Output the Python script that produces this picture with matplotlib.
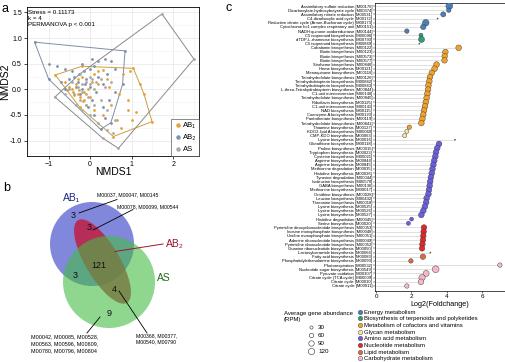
import matplotlib.pyplot as plt
import matplotlib.patches as mpatches
from matplotlib.lines import Line2D
from matplotlib.ticker import MultipleLocator
import numpy as np

plt.rcParams['font.family'] = ['Liberation Sans', 'DejaVu Sans']

# ---------------- panel a : NMDS points ----------------
ab1_x = [-0.84, -0.2, 1.04, 1.49, 0.56, -0.5, -0.45, -0.42, -0.35, -0.3, -0.25, -0.2, -0.15, -0.1,
         -0.05, 0.0, -0.3, -0.6, -0.55, -0.2, 0.1, 0.2, 0.3, 0.4, 0.2, 0.05, -0.1, -0.25, 0.1, 0.3,
         0.5, 0.7, 0.8, 0.95, 0.9, 0.9, 1.0, 1.3, 1.2, 0.65, 0.75, 1.1, 0.45, -0.38, -0.28, -0.18]
ab1_y = [0.28, 0.45, 0.41, -0.63, -0.92, 0.05, 0.0, -0.05, 0.1, -0.1, -0.15, -0.05, -0.2, -0.1,
         0.0, -0.15, 0.2, 0.15, -0.02, 0.25, 0.3, 0.35, 0.38, 0.2, 0.1, 0.15, -0.3, -0.35, -0.4, -0.5,
         -0.3, -0.1, 0.3, 0.35, -0.2, -0.4, -0.6, -0.1, 0.1, -0.6, -0.75, -0.45, 0.05, -0.12, -0.02, -0.22]
ab2_x = [-1.34, 0.84, 0.78, 0.5, 0.25, -1.0, -1.0, -0.8, -0.6, -0.5, -0.4, -0.35, -0.3, -0.2, -0.25,
         -0.15, -0.1, 0.0, 0.1, 0.2, 0.35, 0.5, 0.6, 0.4, 0.3, 0.15, 0.05, -0.05, 0.1, 0.3, 0.45, 0.6,
         -0.6, -0.45, 0.0, 0.2, -0.7, 0.35, 0.05, -0.2, -0.28, -0.12]
ab2_y = [0.92, 0.75, 0.1, -0.65, -0.78, 0.2, 0.5, 0.45, 0.4, 0.2, 0.25, 0.05, 0.15, 0.0, -0.1,
         0.35, 0.2, 0.4, 0.45, 0.55, 0.6, 0.55, 0.4, 0.3, 0.1, -0.05, -0.2, -0.35, -0.5, -0.35, -0.2, -0.05,
         0.0, 0.35, 0.05, 0.25, 0.15, -0.55, 0.6, 0.5, 0.3, 0.1]
as_x = [1.73, 2.5, 0.68, -0.85, -0.25, -0.5, -0.4, -0.3, -0.2, -0.15, -0.1, 0.0, 0.05, 0.1, 0.15,
        -0.05, -0.25, -0.35, -0.2, 0.0, 0.1, 0.25, 0.35, 0.5, 0.2, 0.4, 0.55, 0.3, 0.6, -0.6, -0.45,
        0.0, 0.4, 0.25, -0.1]
as_y = [1.47, 0.59, -1.15, -0.15, 0.3, 0.0, -0.1, 0.05, 0.1, -0.05, 0.15, 0.1, 0.2, 0.0, 0.15,
        -0.15, -0.2, -0.3, -0.4, -0.5, -0.3, -0.2, 0.05, 0.15, -0.65, -0.8, -0.85, -0.95, -0.6, -0.1, 0.15,
        0.25, -0.4, 0.2, -0.3]

groups = ['AB\u2081', 'AB\u2082', 'AS']
pt_cols = ['#e3a234', '#7d8fb0', '#a8a8a8']
hull_cols = ['#c9a040', '#7f8fa6', '#8a8a8a']

# ---------------- panel b : Venn counts ----------------
venn_counts = ['3', '3', '121', '3', '4', '9']   # AB1 only, AB1&AB2, all, AB1&AS, AB2&AS, AS only

# ---------------- panel c : modules ----------------
labels = [
    'Assimilatory sulfate reduction [M00176]', 'Dicarboxylate-hydroxybutyrate cycle [M00374]',
    'Assimilatory nitrate reduction [M00531]', 'C4-dicarboxylic acid cycle [M00172]',
    'Reductive citrate cycle (Arnon-Buchanan cycle) [M00173]', 'Cytochrome bc1 complex respiratory unit [M00151]',
    'NADH:quinone oxidoreductase [M00144]',
    'C5 isoprenoid biosynthesis [M00096]', 'dTDP-L-rhamnose biosynthesis [M00793]', 'C5 isoprenoid biosynthesis [M00849]',
    'Cobalamin biosynthesis [M00122]', 'Biotin biosynthesis [M00123]', 'Biotin biosynthesis [M00573]',
    'Biotin biosynthesis [M00577]', 'Siroheme biosynthesis [M00846]', 'Heme biosynthesis [M00121]',
    'Menaquinone biosynthesis [M00116]', 'Tetrahydrofolate biosynthesis [M00126]',
    'Tetrahydrobiopterin biosynthesis [M00842]', 'Tetrahydrobiopterin biosynthesis [M00843]',
    'L-threo-Tetrahydrobiopterin biosynthesis [M00844]', 'C1-unit interconversion [M00140]',
    'Tetrahydrofolate biosynthesis [M00840]', 'Riboflavin biosynthesis [M00125]',
    'C1-unit interconversion [M00141]', 'NAD biosynthesis [M00115]', 'Coenzyme A biosynthesis [M00120]',
    'Pantothenate biosynthesis [M00119]', 'Tetrahydrofolate biosynthesis [M00841]', 'Thiamine biosynthesis [M00127]',
    'KDO2-lipid A biosynthesis [M00060]', 'CMP-KDO biosynthesis [M00063]',
    'Lysine biosynthesis [M00016]', 'Glutathione biosynthesis [M00118]', 'Proline biosynthesis [M00015]',
    'Tryptophan biosynthesis [M00023]', 'Cysteine biosynthesis [M00021]', 'Arginine biosynthesis [M00844]',
    'Arginine biosynthesis [M00845]', 'Methionine degradation [M00035]', 'Histidine biosynthesis [M00026]',
    'Tyrosine degradation [M00044]', 'Isoleucine biosynthesis [M00570]', 'GABA biosynthesis [M00136]',
    'Methionine biosynthesis [M00017]', 'Ornithine biosynthesis [M00028]', 'Leucine biosynthesis [M00432]',
    'Threonine biosynthesis [M00018]', 'Lysine biosynthesis [M00525]', 'Lysine biosynthesis [M00526]',
    'Lysine biosynthesis [M00527]', 'Histidine degradation [M00045]', 'Serine biosynthesis [M00020]',
    'Pyrimidine deoxyribonucleotide biosynthesis [M00053]', 'Inosine monophosphate biosynthesis [M00048]',
    'Uridine monophosphate biosynthesis [M00051]', 'Adenine ribonucleotide biosynthesis [M00049]',
    'Pyrimidine ribonucleotide biosynthesis [M00052]', 'Guanine ribonucleotide biosynthesis [M00050]',
    'Lactosylceramide biosynthesis [M00066]', 'Fatty acid biosynthesis [M00083]',
    'Phosphatidylethanolamine biosynthesis [M00093]',
    'Photorespiration [M00532]', 'Nucleotide sugar biosynthesis [M00549]', 'Pyruvate oxidation [M00307]',
    'Citrate cycle (TCA cycle) [M00009]', 'Citrate cycle [M00010]', 'Citrate cycle [M00011]',
]
log2fc = [4.14, 4.11, 3.8, 3.48, 2.81, 2.67, 1.74,
          2.54, 2.57, 2.45,
          4.67, 3.92, 3.88, 3.87, 3.42, 3.31, 3.15, 3.05, 3.01, 2.96, 2.94, 2.9, 2.86, 2.81, 2.77,
          2.71, 2.67, 2.62, 2.56, 1.88,
          1.74, 1.62,
          4.46, 3.56, 3.46, 3.39, 3.35, 3.29, 3.24, 3.19, 3.15, 3.1, 3.06, 3.03, 2.99, 2.96, 2.86,
          2.83, 2.76, 2.67, 2.56, 2.01, 1.83,
          2.71, 2.69, 2.67, 2.65, 2.62, 2.6,
          3.07, 2.65, 1.97,
          7.0, 3.37, 2.83, 2.6, 2.54, 1.74]
abundance = [140, 60, 80, 4, 130, 90, 60,
             50, 110, 4,
             100, 95, 95, 95, 100, 100, 95, 100, 100, 100, 100, 100, 100, 100, 100,
             100, 100, 100, 100, 60,
             50, 55,
             4, 100, 100, 100, 100, 100, 100, 100, 100, 100, 100, 100, 100, 100, 100,
             100, 100, 100, 100, 45, 50,
             95, 95, 95, 95, 95, 95,
             4, 90, 60,
             60, 140, 110, 120, 100, 60]
n_per_cat = [7, 3, 20, 2, 21, 6, 3, 6]
categories = ['Energy metabolism', 'Biosynthesis of terpenoids and polyketides',
              'Metabolism of cofactors and vitamins', 'Glycan metabolism', 'Amino acid metabolism',
              'Nucleotide metabolism', 'Lipid metabolism', 'Carbohydrate metabolism']
cat_cols = ['#4c7fb8', '#2f9e70', '#f0a22c', '#f6e39c', '#6a5fdc', '#e0292b', '#e2673f', '#f5b9c5']
size_keys = [30, 60, 90, 120]

W, H = 506, 362
fig = plt.figure(figsize=(W / 100, H / 100), dpi=100)

# ---------------- panel a ----------------
def hull(xs, ys):
    pts = sorted(set(zip(xs, ys)))
    def cross(o, a, b):
        return (a[0] - o[0]) * (b[1] - o[1]) - (a[1] - o[1]) * (b[0] - o[0])
    lower, upper = [], []
    for p in pts:
        while len(lower) >= 2 and cross(lower[-2], lower[-1], p) <= 0:
            lower.pop()
        lower.append(p)
    for p in reversed(pts):
        while len(upper) >= 2 and cross(upper[-2], upper[-1], p) <= 0:
            upper.pop()
        upper.append(p)
    h = lower[:-1] + upper[:-1]
    h.append(h[0])
    return [p[0] for p in h], [p[1] for p in h]

ax = fig.add_axes([26.7 / W, 1 - 156 / H, 172.6 / W, 148.7 / H])
data_a = [(ab1_x, ab1_y), (ab2_x, ab2_y), (as_x, as_y)]
for (gx, gy), g, pc, hc in zip(data_a, groups, pt_cols, hull_cols):
    hx, hy = hull(gx, gy)
    ax.plot(hx, hy, color=hc, lw=0.7, zorder=2)
    ax.scatter(gx, gy, s=4, color=pc, label=g, zorder=3, linewidths=0)
ax.set_xlim(-1.53, 2.63)
ax.set_ylim(-1.3, 1.6)
ax.xaxis.set_major_locator(MultipleLocator(1))
ax.yaxis.set_major_locator(MultipleLocator(0.5))
ax.xaxis.set_minor_locator(MultipleLocator(0.5))
ax.yaxis.set_minor_locator(MultipleLocator(0.25))
ax.yaxis.set_major_formatter(plt.FormatStrFormatter('%.1f'))
ax.grid(True, which='major', color='#e6e6e6', lw=0.5, zorder=0)
ax.grid(True, which='minor', color='#f2f2f2', lw=0.4, zorder=0)
ax.set_axisbelow(True)
ax.tick_params(which='major', labelsize=5, length=2, width=0.5, pad=1.5)
ax.tick_params(which='minor', length=0)
for s in ax.spines.values():
    s.set_linewidth(0.6)
ax.set_xlabel('NMDS1', fontsize=7.5)
ax.set_ylabel('NMDS2', fontsize=7.5)
ax.xaxis.set_label_coords(0.5, -0.075)
ax.yaxis.set_label_coords(-0.095, 0.5)
ax.text(0.01, 0.985, 'Stress = 0.11173\nk = 4\nPERMANOVA p < 0.001', transform=ax.transAxes,
        fontsize=4.5, va='top', ha='left', linespacing=1.25)
leg = ax.legend(loc='lower right', fontsize=5.5, frameon=True, fancybox=False, edgecolor='#333333',
                markerscale=1.6, handletextpad=0.2, labelspacing=0.6, borderpad=0.4,
                handlelength=1.0, borderaxespad=0.0)
leg.get_frame().set_linewidth(0.5)

# ---------------- panel b : Venn ----------------
axb = fig.add_axes([0, 0, 260 / W, 190 / H])
axb.set_xlim(0, 260)
axb.set_ylim(362, 172)
axb.axis('off')
axb.add_patch(mpatches.Circle((92, 244), 42, facecolor='#6b73d6', alpha=0.85, lw=0, zorder=1))
axb.add_patch(mpatches.Ellipse((102.5, 261.5), 96, 34, angle=59.4, facecolor='#c4163a', alpha=0.8, lw=0, zorder=2))
axb.add_patch(mpatches.Circle((109, 282), 46, facecolor='#44bb44', alpha=0.6, lw=0, zorder=3))

count_pos = [(73, 215), (89, 228), (99, 266), (75, 275), (114, 290), (109, 313)]
for (cx, cy), c in zip(count_pos, venn_counts):
    axb.text(cx, cy, c, fontsize=6.5, ha='center', va='center', color='#111111', zorder=5)

axb.text(72, 198, 'AB\u2081', fontsize=7.5, ha='center', va='center', color='#1c2a80', zorder=5)
axb.text(166, 244, 'AB\u2082', fontsize=7.5, ha='left', va='center', color='#a3122f', zorder=5)
axb.text(157, 278, 'AS', fontsize=7.5, ha='left', va='center', color='#1d6e1d', zorder=5)

axb.plot([79, 117], [213, 199.5], color='black', lw=0.6, zorder=6)
axb.plot([93, 133], [230, 209.5], color='black', lw=0.6, zorder=6)
axb.plot([115, 163], [251.5, 244], color='#a3122f', lw=0.7, zorder=6)
axb.plot([100, 87], [317, 333], color='black', lw=0.6, zorder=6)
axb.plot([119, 147], [291, 333], color='black', lw=0.6, zorder=6)

axb.text(96.7, 194.3, 'M00037, M00047, M00145', fontsize=3.7, ha='left', va='center')
axb.text(116.7, 206.7, 'M00078, M00099, M00544', fontsize=3.7, ha='left', va='center')
axb.text(30.7, 334, 'M00042, M00085, M00528,\nM00563, M00596, M00609,\nM00780, M00796, M00804',
         fontsize=3.9, ha='left', va='top', linespacing=1.55)
axb.text(136, 333, 'M00368, M00377,\nM00540, M00790', fontsize=3.7, ha='left', va='top', linespacing=1.4)
axb.text(3, 188, 'b', fontsize=9, ha='left', va='center')

fig.text(2 / W, 1 - 9 / H, 'a', fontsize=9, ha='left', va='center')
fig.text(226 / W, 1 - 8 / H, 'c', fontsize=9, ha='left', va='center')

# ---------------- panel c ----------------
axc = fig.add_axes([375 / W, 1 - 291 / H, 130 / W, 288 / H])
cat_of_row = np.repeat(np.arange(len(categories)), n_per_cat)
row_cols = [cat_cols[i] for i in cat_of_row]
yy = np.arange(len(labels))
k = 0.17
axc.hlines(yy, 0, log2fc, color='#cfcfcf', lw=0.45, zorder=1)
axc.scatter(log2fc, yy, s=np.array(abundance) * k, c=row_cols, edgecolors='#3a3a3a',
            linewidths=0.3, zorder=3)
axc.set_ylim(68.2, -0.72)
axc.set_xlim(-0.06, 7.29)
axc.set_yticks(yy)
axc.set_yticklabels(labels, fontsize=3.0)
axc.set_xticks([0, 2, 4, 6])
axc.tick_params(axis='x', labelsize=4.5, length=1.5, width=0.4, pad=1)
axc.tick_params(axis='y', length=1.2, width=0.3, pad=0.8)
for s in axc.spines.values():
    s.set_linewidth(0.5)
axc.set_xlabel('Log2(Foldchange)', fontsize=5.2, labelpad=1)

size_handles = [Line2D([], [], marker='o', ls='', markerfacecolor='white', markeredgecolor='#333333',
                       markeredgewidth=0.4, markersize=np.sqrt(v * k)) for v in size_keys]
fig.legend(size_handles, [str(v) for v in size_keys], title='Average gene abundance\n(RPM)',
           loc='upper left', bbox_to_anchor=(280 / W, 1 - 307 / H), frameon=False, fontsize=4.5,
           title_fontsize=4.3, labelspacing=0.45, handletextpad=0.6, handlelength=1.0, borderpad=0.1)
cat_handles = [Line2D([], [], marker='o', ls='', markerfacecolor=c, markeredgecolor='#3a3a3a',
                      markeredgewidth=0.3, markersize=3.2) for c in cat_cols]
fig.legend(cat_handles, categories, loc='upper left', bbox_to_anchor=(354 / W, 1 - 306 / H),
           frameon=False, fontsize=4.3, labelspacing=0.25, handletextpad=0.3, handlelength=0.8,
           borderpad=0.1)

fig.savefig('out.png', dpi=100)
